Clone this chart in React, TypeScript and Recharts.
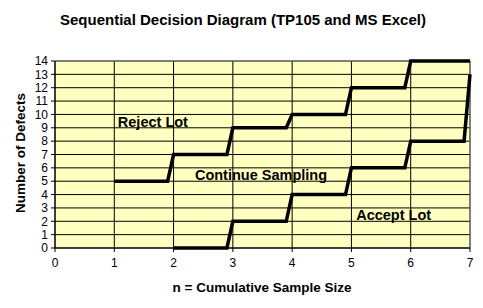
import { CartesianGrid, Line, LineChart, ReferenceDot, ReferenceLine, XAxis, YAxis } from 'recharts';

// decision boundaries
const rejectN = [1, 1.9, 2, 2.9, 3, 3.9, 4, 4.9, 5, 5.9, 6, 7];
const rejectD = [5, 5, 7, 7, 9, 9, 10, 10, 12, 12, 14, 14];
const acceptN = [2, 2.9, 3, 3.9, 4, 4.9, 5, 5.9, 6, 6.9, 7];
const acceptD = [0, 0, 2, 2, 4, 4, 6, 6, 8, 8, 13];

const xTicks = [0, 1, 2, 3, 4, 5, 6, 7];
const yTicks = [0, 1, 2, 3, 4, 5, 6, 7, 8, 9, 10, 11, 12, 13, 14];

const zones = [
  { n: 1.06, d: 9.43, text: 'Reject Lot' },
  { n: 2.36, d: 5.46, text: 'Continue Sampling' },
  { n: 5.08, d: 2.47, text: 'Accept Lot' },
];

const reject = rejectN.map((n, i) => ({ n, d: rejectD[i] }));
const accept = acceptN.map((n, i) => ({ n, d: acceptD[i] }));

const font = 'Arial, "Liberation Sans", sans-serif';

const zoneLabel = (text: string) => (props: any) => {
  const { viewBox } = props;
  if (!viewBox) return null;
  return (
    <text
      x={viewBox.x}
      y={viewBox.y}
      dominantBaseline="central"
      fontFamily={font}
      fontSize={14.5}
      fontWeight="bold"
      fill="#000"
    >
      {text}
    </text>
  );
};

export default function App() {
  return (
    <div style={{ position: 'absolute', left: 0, top: 0, background: '#fff' }}>
      <LineChart
        width={483}
        height={308}
        margin={{ top: 61, right: 13, bottom: 40, left: 10 }}
      >
        <CartesianGrid stroke="#000" fill="#FFFFC0" strokeOpacity={1} />
        {/* plot area frame is grey on top and right */}
        <ReferenceLine y={14} stroke="#808080" />
        <ReferenceLine x={7} stroke="#808080" />
        <XAxis
          dataKey="n"
          type="number"
          domain={[0, 7]}
          ticks={xTicks}
          allowDuplicatedCategory={false}
          height={20}
          stroke="#000"
          tickSize={4}
          tickMargin={6}
          tick={{ fill: '#000', fontSize: 12, fontFamily: font }}
        />
        <YAxis
          type="number"
          domain={[0, 14]}
          ticks={yTicks}
          interval={0}
          width={45}
          stroke="#000"
          tickSize={4}
          tickMargin={3}
          tick={{ fill: '#000', fontSize: 12, fontFamily: font }}
        />
        <Line
          data={reject}
          dataKey="d"
          type="linear"
          stroke="#000"
          strokeWidth={3.5}
          dot={false}
          isAnimationActive={false}
        />
        <Line
          data={accept}
          dataKey="d"
          type="linear"
          stroke="#000"
          strokeWidth={3.5}
          dot={false}
          isAnimationActive={false}
        />
        {zones.map((z) => (
          <ReferenceDot
            key={z.text}
            x={z.n}
            y={z.d}
            r={0}
            fill="none"
            stroke="none"
            label={zoneLabel(z.text)}
          />
        ))}
        <text
          x={243}
          y={19}
          textAnchor="middle"
          dominantBaseline="central"
          fontFamily={font}
          fontSize={15}
          fontWeight="bold"
        >
          Sequential Decision Diagram (TP105 and MS Excel)
        </text>
        <text
          x={262}
          y={287}
          textAnchor="middle"
          dominantBaseline="central"
          fontFamily={font}
          fontSize={13.5}
          fontWeight="bold"
        >
          n = Cumulative Sample Size
        </text>
        <text
          x={20}
          y={153}
          transform="rotate(-90 20 153)"
          textAnchor="middle"
          dominantBaseline="central"
          fontFamily={font}
          fontSize={13.5}
          fontWeight="bold"
        >
          Number of Defects
        </text>
      </LineChart>
    </div>
  );
}
